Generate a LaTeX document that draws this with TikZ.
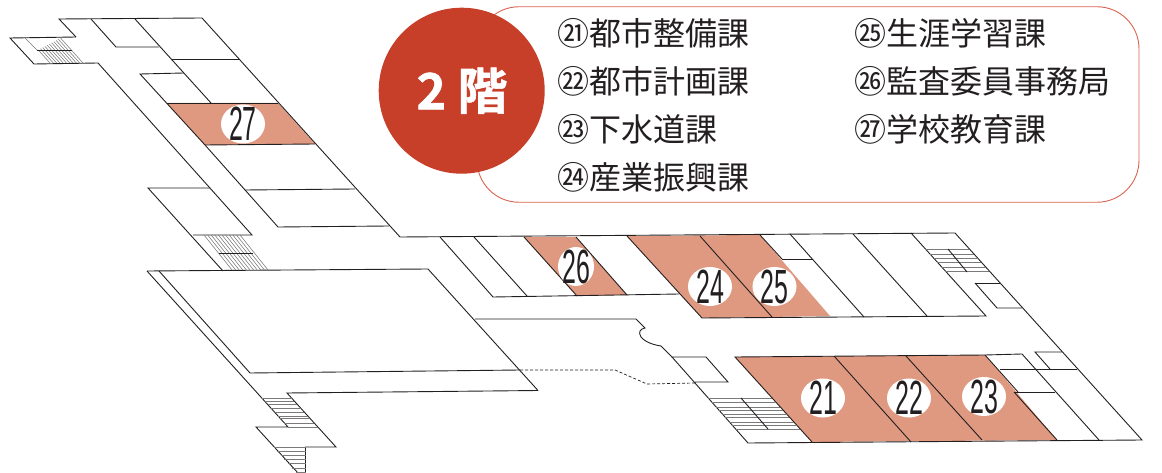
\documentclass[tikz,border=0pt]{standalone}
\usepackage{fontspec}
\setmainfont{Noto Sans CJK JP}
\newfontfamily\numf[FakeStretch=0.52]{Liberation Sans}
\newfontfamily\heavyf[UprightFont=* Bold,FakeBold=1.2]{Noto Sans CJK JP}
\usetikzlibrary{shapes.geometric}
\definecolor{pinkroom}{HTML}{DF9980}
\definecolor{redc}{HTML}{C73E29}
\definecolor{redl}{HTML}{DC6350}
\definecolor{inkc}{HTML}{231F20}
\tikzset{x=1pt,y=-1pt,
  wall/.style={draw=inkc,line width=0.9pt,line join=miter},
  hatchl/.style={draw=inkc!60,line width=0.55pt},
  numbub/.style={ellipse,fill=white,inner sep=0pt,minimum width=44pt,minimum height=39pt},
  numtext/.style={font=\numf\fontsize{48}{48}\selectfont,text=inkc,inner sep=0pt},
  listrow/.style={anchor=base west,inner sep=0pt,text=inkc,font=\fontsize{32}{32}\selectfont},
}
\begin{document}
\begin{tikzpicture}
\useasboundingbox (0,0) rectangle (1162,473);
% rooms
\fill[pinkroom] (167,103)--(278,103)--(315,144)--(205,145)--cycle;
\fill[pinkroom] (524,237)--(576,237)--(627,295)--(577,296)--cycle;
\fill[pinkroom] (627,236)--(760,235)--(830,316)--(702,318)--cycle;
\fill[pinkroom] (735,357)--(985,355)--(1057,440)--(812,442)--cycle;
% north wing
\draw[wall] (76,37)--(59,19)--(202,18)--(400,237)--(955,233)--(1142,440)--(748,443)--(672,357)--(706,357)--(728,382)--(695,382);
\draw[wall] (76,37)--(10,38)--(34,64)--(98,63)--(252,235)--(193,235);
\draw[wall] (91,19)--(116,47)--(159,47);
\draw[wall] (135,19)--(211,103);
\draw[wall] (172,59)--(239,59);
\draw[wall] (184,73)--(140,74)--(205,145)--(278,227)--(389,226);
\draw[wall] (167,103)--(278,103);
\draw[wall] (205,145)--(315,144);
\draw[wall] (245,190)--(355,189);
\draw[wall] (210,188)--(148,188)--(223,271);
% big room
\draw[wall] (147,271)--(428,269)--(538,390.5);
\draw[wall] (159,271)--(250,373)--(520,370);
\draw[wall] (147,271)--(288,427)--(256,427)--(298,473);
\draw[wall] (538,390.5)--(287,393)--(336,447)--(305.5,447)--(305.5,473);
\draw[hatchl] (288,427)--(318,427);
% east wing, upper side
\draw[wall] (440,237)--(493,297)--(679,294);
\draw[wall] (474,237)--(527,296);
\draw[wall] (524,237)--(577,296);
\draw[wall] (576,237)--(627,295);
\draw[wall] (627,236)--(702,318)--(986,316)--(911,233);
\draw[wall] (700,236)--(772,317);
\draw[wall] (760,235)--(782,259);
\draw[wall] (782,259)--(813,259);
\draw[wall] (790,234)--(864,317);
\draw[wall] (853,234)--(927,316);
\draw[wall] (975,283)--(1000,283);
\draw[wall] (975,283)--(997,308)--(1022,308);
% corridor core
\draw[wall] (475,319)--(636,319)--(645,328) .. controls (640,329) and (638,332) .. (641,337) .. controls (646,343) and (655,345) .. (661,346) -- (672,357);
\draw[wall,densely dashed,line width=0.7pt] (520,370)--(615,370)--(647,384)--(695,383);
% east wing, lower side
\draw[wall] (812,442)--(735,357)--(985,355)--(1022,354)--(1099,440);
\draw[wall] (834,356)--(911,442);
\draw[wall] (906,356)--(982,440);
\draw[wall] (985,355)--(1018,392);
\draw[wall] (1014,392)--(1057,440);
\draw[wall] (1000,369)--(1077,369);
\draw[wall] (1014,392)--(1055,392);
\draw[wall] (1050,369)--(1035,352)--(1062,352);
% stairs, north-west end
\draw[hatchl] (25,38)--(37,50);
\foreach \i in {0,...,10}{
  \pgfmathsetmacro{\xb}{50+3.3*\i}
  \pgfmathsetmacro{\yt}{min(50,(189.7-\xb)/2.8)}
  \draw[hatchl] ({\xb-(63-\yt)*0.9},\yt)--(\xb,63);}
\draw[wall] (37,50)--(72,50);
% stairs above the big room
\foreach \i in {0,...,10}{
  \pgfmathsetmacro{\xt}{204+3.6*\i}
  \draw[hatchl] (\xt,235)--({\xt+0.8*35},270);}
\draw[wall] (219,253)--(253,253);
% stairs south
\foreach \y in {398,401,404,408,412,416,418,423}{
  \draw[hatchl] ({258+0.882*(\y-393)},\y)--({287+0.907*(\y-393)},\y);}
\foreach \y in {451,455,459,463,468,472}{
  \draw[hatchl] ({256+0.89*(\y-427)},\y)--(305.5,\y);}
\draw[hatchl] ({256+0.89*20},447)--(305.5,447);
% stairs north-east
\foreach \y in {249,254,258,262,267,271}{
  \draw[hatchl] ({911+0.904*(\y-233)},\y)--({955+0.903*(\y-233)},\y);}
\draw[wall] (948,249)--(967,272);
% stairs south-east
\foreach \y in {398,402,407,410,414,417,422,425,429}{
  \draw[hatchl] ({695+0.883*(\y-383)},\y)--({735+0.906*(\y-357)},\y);}
\draw[wall] (741,398)--(768,429);
% number bubbles
\node[numbub] (b27) at (243,124) {};
\node[numbub,minimum width=36pt] (b26) at (576,266.5) {};
\node[numbub] (b24) at (710,286.5) {};
\node[numbub] (b25) at (774.5,286.5) {};
\node[numbub] (b21) at (823,398) {};
\node[numbub] (b22) at (909,398) {};
\node[numbub] (b23) at (984,396.5) {};
\node[numtext] (n27) at (243,124) {27};
\node[numtext] (n26) at (576,266.5) {26};
\node[numtext] (n24) at (710,286.5) {24};
\node[numtext] (n25) at (774.5,286.5) {25};
\node[numtext] (n21) at (823,398) {21};
\node[numtext] (n22) at (909,398) {22};
\node[numtext] (n23) at (984,396.5) {23};
% legend
\node[draw=redl,line width=0.9pt,fill=white,rounded corners=42pt,minimum width=662pt,minimum height=195.5pt,inner sep=0pt] (panel) at (808,104.5) {};
\node[circle,fill=redc,minimum size=166pt,inner sep=0pt] (disc) at (461.7,90.7) {};
\node[text=white,font=\heavyf\fontsize{50}{50}\selectfont,inner sep=0pt] (floor) at (462,90.7) {2 階};
\node[listrow] (r21) at (557.5,46) {㉑都市整備課};
\node[listrow] (r22) at (557.5,94) {㉒都市計画課};
\node[listrow] (r23) at (557.5,141.5) {㉓下水道課};
\node[listrow] (r24) at (557.5,189.5) {㉔産業振興課};
\node[listrow] (r25) at (854.5,46) {㉕生涯学習課};
\node[listrow] (r26) at (854.5,94) {㉖監査委員事務局};
\node[listrow] (r27) at (854.5,141.5) {㉗学校教育課};
\end{tikzpicture}
\end{document}
